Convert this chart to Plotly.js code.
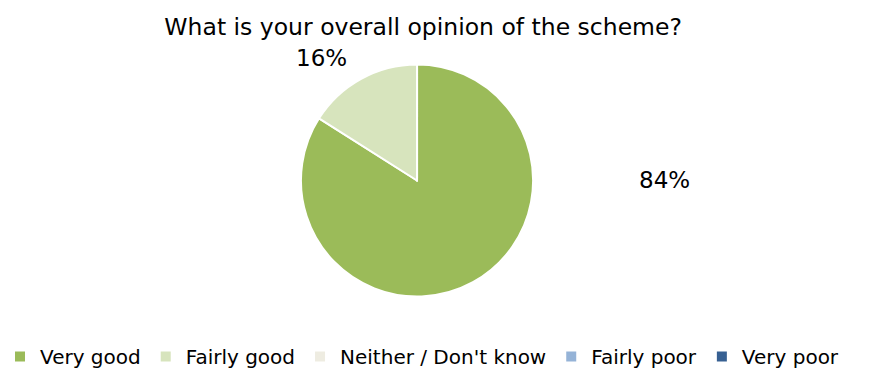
<!DOCTYPE html>
<html>
<head>
<meta charset="utf-8">
<script src="https://cdn.plot.ly/plotly-3.0.1.min.js"></script>
<style>html,body{margin:0;padding:0;background:#fff;}#chart{width:889px;height:376px;}</style>
</head>
<body>
<div id="chart"></div>
<script>
const categories = ["Very good", "Fairly good", "Neither / Don't know", "Fairly poor", "Very poor"];
const values = [84, 16, 0, 0, 0];
const colors = ["#9BBB59", "#D7E4BD", "#EEECE1", "#95B3D7", "#376092"];
const chartTitle = "What is your overall opinion of the scheme?";

const FONT = "DejaVu Sans";

const total = values.reduce((a, b) => a + b, 0);
// label positions (paper coords) for non-zero slices
const labelPos = {"Very good": [0.748, 0.507], "Fairly good": [0.362, 0.84]};
const annotations = categories.map((c, i) => {
  if (!values[i]) return null;
  const p = labelPos[c];
  return {
    text: Math.round(values[i] / total * 100) + "%",
    x: p[0], y: p[1], xref: "paper", yref: "paper",
    showarrow: false, xanchor: "center", yanchor: "middle",
    font: {family: FONT, size: 23, color: "#000"}
  };
}).filter(a => a);

const data = [{
  type: "pie",
  labels: categories,
  values: values,
  marker: {colors: colors, line: {color: "#fff", width: 2}},
  sort: false,
  direction: "clockwise",
  rotation: 0,
  textinfo: "none",
  hoverinfo: "label+percent",
  domain: {x: [0.3347, 0.6035], y: [0.1875, 0.8235]},
  showlegend: true
}];

const layout = {
  width: 889, height: 376,
  margin: {l: 0, r: 0, t: 0, b: 0},
  paper_bgcolor: "#fff",
  font: {family: FONT, color: "#000"},
  title: {text: chartTitle, font: {family: FONT, size: 23.5, color: "#000"}, x: 0.476, xanchor: "center", y: 0.93, yanchor: "middle"},
  showlegend: true,
  legend: {
    orientation: "h", x: 0, xanchor: "left", y: 0.022, yanchor: "middle",
    font: {family: FONT, size: 20, color: "#000"},
    itemwidth: 30, tracegroupgap: 0, traceorder: "normal"
  },
  annotations: annotations
};

Plotly.newPlot("chart", data, layout, {displayModeBar: false, staticPlot: true});
</script>
</body>
</html>
